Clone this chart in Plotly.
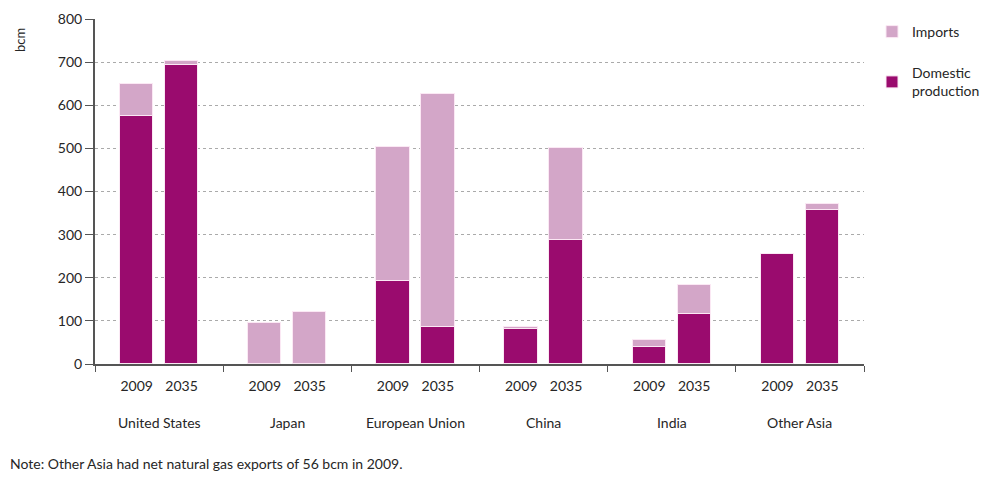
import plotly.graph_objects as go

countries = ["United States", "Japan", "European Union", "China", "India", "Other Asia"]
years = ["2009", "2035"]
domestic = [[575, 693], [0, 0], [193, 85], [81, 287], [40, 116], [256, 358]]
imports_ = [[75, 10], [95, 120], [310, 540], [4, 215], [16, 68], [0, 12]]

offset = 0.175
bar_w = 0.26
xs, dom, imp, labels = [], [], [], []
for i, c in enumerate(countries):
    for j, y in enumerate(years):
        xs.append(i + (offset if j else -offset))
        dom.append(domestic[i][j])
        imp.append(imports_[i][j])
        labels.append(y)

FONT = "Lato, Roboto, sans-serif"
TXT = "#262626"
DOM_C = "#9a0b6e"
IMP_C = "#d3a6c8"

W, H = 985, 470
ml, mr, mt, mb = 87, 129, 11, 114
pw, ph = W - ml - mr, H - mt - mb

def px(x):
    return (x - ml) / pw

def py(y):
    return (H - mb - y) / ph

fig = go.Figure()
fig.add_trace(go.Bar(x=xs, y=dom, width=bar_w, name="Domestic<br>production", legendgroup="d",
                     legendrank=2,
                     marker=dict(color=DOM_C, line=dict(color="#fbe8f4", width=1))))
fig.add_trace(go.Bar(x=xs, y=imp, width=bar_w, name="Imports", legendgroup="i",
                     legendrank=1,
                     marker=dict(color=IMP_C, line=dict(color="#fbe8f4", width=1))))

annotations = [dict(x=i, y=py(414), xref="x", yref="paper", text=c, showarrow=False,
                    font=dict(size=14, color=TXT, family=FONT), yanchor="middle")
               for i, c in enumerate(countries)]
annotations.append(dict(x=px(12), y=py(32), xref="paper", yref="paper", text="bcm", textangle=-90,
                        xanchor="center", yanchor="middle",
                        showarrow=False, font=dict(size=13, color=TXT, family=FONT)))
annotations.append(dict(x=px(0), y=py(455), xref="paper", yref="paper", xanchor="left", yanchor="middle",
                        text="Note: Other Asia had net natural gas exports of 56 bcm in 2009.",
                        showarrow=False, font=dict(size=14, color=TXT, family=FONT)))

fig.update_layout(
    width=W, height=H,
    margin=dict(l=ml, r=mr, t=mt, b=mb, autoexpand=False),
    barmode="stack",
    plot_bgcolor="white", paper_bgcolor="white",
    font=dict(family=FONT, size=14, color=TXT),
    showlegend=True,
    legend=dict(x=px(864), y=py(8), xanchor="left", yanchor="top", traceorder="grouped",
                font=dict(size=14, family=FONT, color=TXT), itemwidth=30,
                tracegroupgap=20, bgcolor="rgba(0,0,0,0)"),
    xaxis=dict(range=[-0.5, 5.5], tickvals=xs, ticktext=labels, ticklen=0, ticklabelstandoff=8,
               showline=True, linecolor="#555", linewidth=2, showgrid=False, zeroline=False,
               tickfont=dict(size=14, family=FONT, color=TXT),
               minor=dict(tick0=-0.5, dtick=1, ticklen=6, tickcolor="#555", ticks="outside", showgrid=False)),
    yaxis=dict(range=[0, 800], dtick=100, ticks="outside", ticklen=8, tickcolor="#555",
               showline=True, linecolor="#555", linewidth=2, zeroline=False,
               showgrid=True, gridcolor="#aaaaaa", griddash="dot", gridwidth=1,
               tickfont=dict(size=14, family=FONT, color=TXT)),
    annotations=annotations,
    bargap=0,
)

fig.write_html("out.html")
